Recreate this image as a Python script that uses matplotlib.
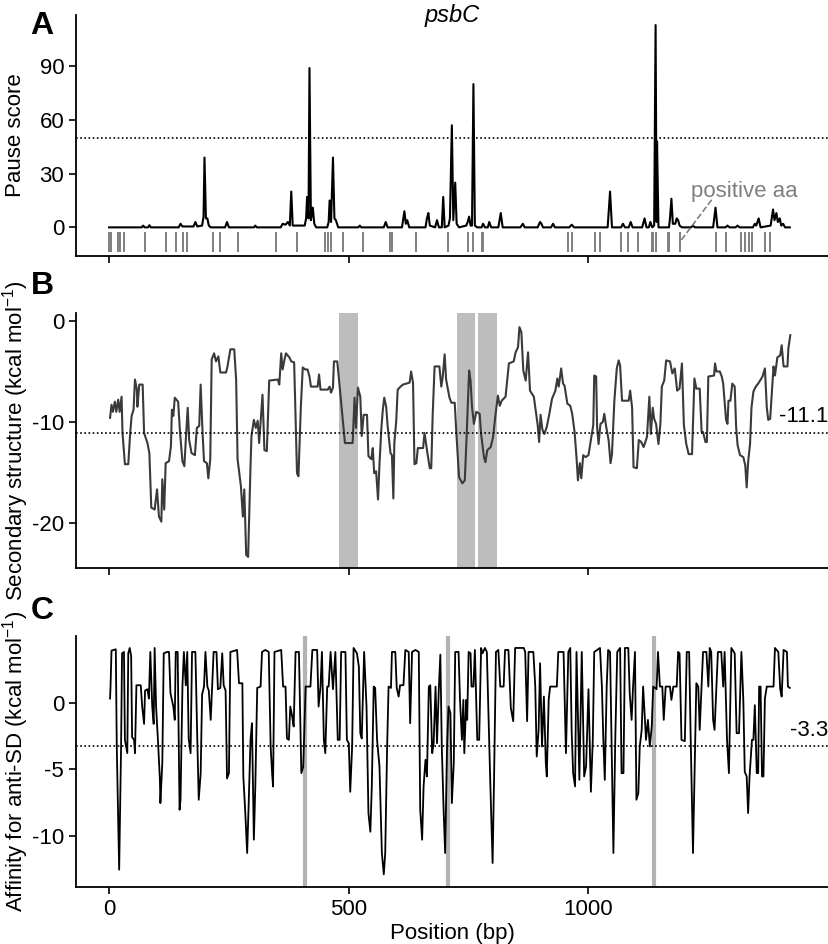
import matplotlib

matplotlib.use("Agg")
import matplotlib.pyplot as plt

plt.rcParams["font.family"] = ["Liberation Sans", "DejaVu Sans"]
plt.rcParams["font.size"] = 16
plt.rcParams["axes.unicode_minus"] = False
plt.rcParams["mathtext.fontset"] = "custom"
plt.rcParams["mathtext.rm"] = "Liberation Sans"
plt.rcParams["mathtext.it"] = "Liberation Sans:italic"

# panel A: ribosome pause score along the gene
pause_points = [
    (0, 0), (68, 0), (71, 1), (74, 0), (81, 0), (84, 1.2), (87, 0),
    (145, 0), (149, 2), (153, 0.5), (176, 0.5), (180, 3), (184, 0.5),
    (194, 1), (197, 6), (199, 39), (202, 5), (205, 5), (208, 1), (212, 0),
    (242, 0), (246, 3), (250, 0), (302, 0), (305, 1), (308, 0),
    (358, 0), (362, 2), (368, 1.5), (373, 3), (377, 1), (380, 20), (383, 1),
    (408, 1), (411, 5), (413, 17), (416, 5), (418, 89), (421, 4), (425, 11),
    (428, 2), (432, 0),
    (455, 0), (458, 3), (460, 15), (463, 3), (467, 39), (470, 5), (473, 4),
    (478, 0), (520, 0), (523, 1), (526, 0), (573, 0), (577, 3), (581, 0),
    (611, 0), (616, 9), (619, 2), (622, 4), (626, 0),
    (660, 0), (663, 5), (666, 8), (669, 1), (680, 0), (684, 4), (688, 0),
    (694, 0), (697, 17), (700, 0),
    (708, 1), (711, 5), (715, 57), (718, 4), (722, 25), (725, 2), (730, 0),
    (745, 1), (748, 3), (751, 6), (754, 1), (757, 1), (760, 80), (763, 1),
    (768, 0), (777, 0), (780, 2), (784, 0), (790, 0), (793, 3), (797, 0),
    (812, 0), (817, 8), (821, 0),
    (858, 0), (863, 2), (867, 0), (894, 0), (899, 3), (902, 2), (905, 0),
    (922, 0), (926, 2), (930, 0), (960, 0), (965, 1.5), (970, 0),
    (1040, 0), (1045, 20), (1049, 0),
    (1068, 0), (1072, 2), (1076, 0), (1084, 0), (1088, 3), (1092, 0),
    (1112, 0), (1117, 5), (1121, 0), (1126, 0), (1129, 3), (1133, 0),
    (1137, 1), (1140, 113), (1142, 3), (1143, 48), (1146, 0),
    (1168, 0), (1170, 5), (1173, 16), (1176, 2), (1181, 2), (1184, 5),
    (1187, 4), (1190, 1), (1195, 0),
    (1214, 0), (1218, 1), (1222, 0), (1260, 0), (1265, 11), (1269, 0),
    (1286, 0), (1290, 1), (1294, 0), (1307, 0), (1311, 1), (1315, 0),
    (1343, 0), (1347, 2), (1350, 1), (1355, 5), (1359, 0),
    (1380, 1), (1385, 10), (1388, 4), (1392, 8), (1395, 3), (1399, 5),
    (1402, 1), (1406, 2), (1410, 0), (1420, 0),
]
pause_threshold = 50

# positions of codons for positive amino acids (rug under panel A)
positive_aa = [
    0, 3, 19, 22, 31, 74, 119, 139, 154, 163, 217, 232, 268, 349, 392,
    451, 457, 463, 488, 530, 587, 590, 641, 706, 748, 760, 777, 781,
    957, 965, 1014, 1024, 1067, 1083, 1104, 1132, 1135, 1141, 1165, 1168,
    1191, 1265, 1286, 1318, 1326, 1334, 1341, 1368, 1378,
]

# panel B: secondary structure free energy
ss_points = [
    (2, -9.6), (5, -8.3), (8, -9.0), (12, -8.0), (15, -9.0), (19, -7.8),
    (22, -9.0), (26, -7.5), (28, -11.1), (33, -14.2), (40, -14.2), (44, -11.1),
    (47, -9.4), (51, -8.8), (54, -5.8), (58, -6.8), (59, -8.5), (63, -6.3),
    (70, -6.3), (73, -11.1), (80, -12.1), (84, -13.1), (88, -18.5), (95, -18.7),
    (100, -16.7), (104, -19.4), (109, -19.9), (111, -15.7), (115, -18.7),
    (118, -14.1), (125, -13.9), (129, -12.4), (131, -8.8), (134, -9.4),
    (137, -7.6), (144, -8.0), (148, -11.1), (153, -13.9), (157, -14.4),
    (160, -11.8), (164, -8.6), (167, -11.8), (172, -13.1), (179, -13.3),
    (183, -10.6), (188, -10.4), (191, -6.3), (195, -11.1), (198, -13.9),
    (204, -14.1), (207, -15.6), (211, -13.7), (214, -3.8), (219, -3.2),
    (223, -4.0), (228, -3.5), (232, -5.1), (244, -5.1), (247, -4.5),
    (253, -2.8), (261, -2.8), (265, -5.8), (268, -13.7), (275, -16.4),
    (279, -19.4), (282, -16.7), (286, -23.2), (290, -23.4), (295, -14.4),
    (297, -11.4), (302, -9.8), (306, -10.6), (310, -9.9), (313, -12.1),
    (317, -9.4), (320, -7.3), (324, -12.8), (329, -12.9), (334, -5.9),
    (352, -5.8), (355, -6.3), (359, -3.2), (362, -4.8), (366, -3.8),
    (369, -3.2), (376, -3.6), (380, -4.0), (386, -4.1), (392, -15.1),
    (395, -15.4), (400, -8.5), (404, -4.6), (409, -4.8), (414, -4.8),
    (418, -5.5), (421, -6.5), (435, -6.5), (438, -5.3), (441, -6.8),
    (456, -6.8), (460, -6.5), (463, -7.1), (467, -6.6), (469, -4.0),
    (476, -4.0), (478, -5.0), (484, -8.1), (492, -12.1), (508, -12.1),
    (512, -7.6), (515, -10.6), (519, -6.6), (524, -7.5), (527, -11.4),
    (531, -9.3), (538, -9.3), (541, -13.4), (547, -13.7), (550, -12.6),
    (553, -15.1), (557, -14.9), (561, -17.7), (564, -14.2), (568, -10.6),
    (571, -8.8), (574, -7.6), (578, -8.5), (581, -10.4), (587, -13.1),
    (590, -13.3), (593, -17.6), (595, -12.1), (599, -9.9), (602, -6.8),
    (608, -6.5), (613, -6.3), (627, -6.1), (630, -5.0), (634, -6.1),
    (637, -14.2), (641, -14.1), (644, -12.6), (655, -12.6), (658, -11.1),
    (664, -13.1), (669, -14.6), (672, -14.6), (675, -9.3), (679, -4.5),
    (689, -4.5), (693, -6.5), (696, -5.5), (700, -3.3), (703, -5.8),
    (710, -7.6), (714, -8.1), (721, -8.1), (724, -10.8), (730, -15.5),
    (737, -16.1), (742, -15.8), (746, -11.2), (751, -4.9), (754, -5.9),
    (757, -8.5), (761, -10.2), (766, -9.0), (773, -9.2), (776, -11.2),
    (782, -13.5), (785, -14.0), (789, -12.8), (796, -12.5), (801, -11.5),
    (806, -9.3), (811, -7.4), (815, -8.4), (819, -7.9), (827, -7.5),
    (834, -4.2), (844, -4.0), (848, -3.1), (853, -2.6), (856, -0.6),
    (860, -1.1), (864, -4.9), (869, -5.9), (874, -3.1), (878, -6.9),
    (886, -7.5), (891, -9.3), (894, -10.3), (897, -12.0), (900, -9.3),
    (904, -10.8), (908, -11.2), (913, -10.5), (918, -9.3), (924, -7.7),
    (931, -6.9), (935, -5.7), (938, -6.5), (943, -4.7), (947, -6.2),
    (950, -6.4), (956, -8.2), (962, -8.4), (966, -9.2), (971, -11.0),
    (975, -13.5), (978, -15.8), (982, -14.1), (985, -15.6), (989, -13.3),
    (994, -13.5), (1000, -13.3), (1005, -11.8), (1010, -10.3), (1012, -5.4),
    (1016, -5.5), (1018, -10.5), (1021, -12.2), (1025, -10.2), (1030, -10.0),
    (1033, -9.2), (1037, -10.5), (1042, -11.8), (1046, -14.1), (1049, -13.2),
    (1054, -7.9), (1059, -4.7), (1063, -3.9), (1066, -4.4), (1070, -7.9),
    (1084, -7.9), (1087, -6.9), (1091, -8.6), (1094, -14.5), (1101, -14.6),
    (1105, -11.8), (1110, -12.0), (1115, -12.5), (1122, -11.5), (1127, -7.5),
    (1130, -11.2), (1134, -8.6), (1137, -9.7), (1141, -10.2), (1146, -12.2),
    (1150, -10.2), (1153, -6.5), (1158, -5.9), (1162, -3.9), (1170, -4.0),
    (1175, -5.2), (1180, -4.7), (1185, -6.9), (1190, -6.7), (1195, -4.2),
    (1199, -10.3), (1204, -12.2), (1209, -13.2), (1216, -13.2), (1221, -5.7),
    (1225, -6.7), (1232, -6.7), (1236, -11.0), (1239, -11.0), (1244, -12.0),
    (1247, -12.0), (1250, -5.5), (1262, -5.4), (1264, -4.2), (1267, -5.0),
    (1274, -5.0), (1278, -5.5), (1281, -6.2), (1287, -9.8), (1290, -10.2),
    (1292, -7.9), (1296, -7.9), (1300, -6.2), (1305, -6.5), (1308, -10.5),
    (1311, -12.3), (1316, -13.3), (1323, -13.5), (1327, -14.3), (1330, -16.5),
    (1333, -14.0), (1337, -12.2), (1340, -8.6), (1344, -7.0), (1349, -6.5),
    (1354, -6.2), (1358, -5.9), (1363, -5.5), (1368, -4.7), (1372, -8.6),
    (1375, -9.8), (1379, -9.7), (1382, -7.5), (1386, -4.5), (1389, -5.4),
    (1394, -3.6), (1400, -3.4), (1403, -2.4), (1407, -4.5), (1415, -4.5),
    (1417, -2.7), (1421, -1.4),
]
ss_threshold = -11.1
ss_bands = [(479, 519), (726, 764), (770, 809)]

# panel C: affinity for anti-SD
sd_points = [
    (2, 0.3), (3, 1.2), (5, 3.9), (14, 4.0), (16, -3.3), (21, -12.55),
    (25, -3.3), (27, 3.7), (31, 3.8), (33, -2.8), (36, -3.4), (38, -3.8),
    (40, 3.7), (43, 4.1), (46, 3.5), (48, -2.6), (52, -2.8), (54, -3.8),
    (57, 1.3), (66, 1.3), (69, -0.3), (73, -1.6), (75, 0.9), (80, 1.0),
    (83, 0.3), (86, 3.8), (90, -0.3), (93, -1.6), (95, 4.1), (98, -0.3),
    (102, -2.9), (106, -5.8), (107, -7.55), (111, -4.55), (114, 3.7),
    (121, 3.8), (125, 3.8), (128, 0.7), (134, -0.3), (137, -1.3), (139, 3.8),
    (143, 3.8), (147, -8.05), (149, -7.3), (153, 1.2), (156, 3.8), (160, 1.3),
    (163, 3.8), (166, -2.7), (170, -3.8), (173, 3.8), (180, 3.8), (184, -2.8),
    (187, -7.3), (191, -5.3), (194, 0.6), (198, 1.2), (201, 3.8), (205, 1.2),
    (208, 0.9), (212, -1.3), (215, 1.2), (218, 3.8), (224, 3.8), (227, 1.0),
    (232, 1.1), (236, 3.7), (239, 1.3), (243, 0.9), (246, -5.7), (250, -5.3),
    (253, 3.8), (267, 3.95), (271, 1.45), (278, 1.45), (280, -5.55),
    (284, -8.2), (288, -11.3), (291, -7.8), (295, -2.8), (298, -1.55),
    (302, -10.3), (305, -6.3), (309, 1.1), (316, 1.2), (319, 3.8),
    (326, 3.95), (333, 3.8), (337, -3.3), (340, -5.3), (342, -6.3),
    (345, 3.8), (359, 3.95), (363, 1.2), (368, 1.2), (371, -2.7), (375, -2.8),
    (378, -0.3), (382, -1.05), (385, -1.8), (389, 3.8), (396, 3.8),
    (401, -5.3), (405, -4.8), (410, 1.2), (420, 1.2), (424, 3.95),
    (434, 3.95), (437, -0.3), (441, 1.2), (444, 3.8), (448, -2.8),
    (451, -3.8), (455, 1.2), (458, 1.2), (462, 3.8), (467, 1.0), (472, 3.8),
    (477, -2.8), (481, -2.8), (484, 3.8), (493, 3.8), (496, -2.8),
    (500, -3.05), (503, -6.7), (507, -3.3), (510, 4.1), (517, 3.7),
    (521, 2.7), (524, -2.3), (527, -2.7), (532, 3.8), (537, -0.3),
    (541, -8.3), (545, -9.7), (548, -6.3), (552, 1.2), (555, 1.1),
    (559, -2.8), (564, -4.8), (569, -11.3), (573, -12.9), (576, -11.3),
    (580, -3.3), (583, 1.2), (588, 1.1), (590, 3.8), (597, 3.8), (600, 1.1),
    (604, 0.45), (607, 1.3), (614, 1.3), (618, 3.95), (625, 3.8),
    (628, -1.55), (632, 3.8), (639, 3.95), (646, 3.8), (649, -8.05),
    (653, -10.3), (656, -6.3), (660, -4.3), (663, -5.55), (667, 1.2),
    (670, 1.3), (674, -3.8), (677, -3.05), (681, 1.2), (684, -3.05),
    (688, 1.2), (691, 3.6), (694, -3.3), (698, -8.3), (701, -11.3),
    (705, -3.3), (708, -0.3), (712, -0.8), (715, -7.55), (719, -4.55),
    (722, 3.8), (729, 3.8), (732, 0.2), (736, -2.8), (739, 0.2), (741, -3.8),
    (745, 0.2), (747, -1.3), (750, 3.8), (754, 3.7), (756, 1.2), (760, 1.2),
    (763, 3.95), (768, -2.8), (772, -2.8), (776, 4.1), (779, 3.7), (784, 4.1),
    (788, 3.8), (791, -0.3), (795, -5.8), (800, -12.05), (803, -5.8),
    (807, 3.8), (812, 3.95), (816, 1.2), (823, 1.2), (826, 3.95),
    (833, 3.95), (838, -0.4), (843, -1.4), (847, 4.1), (865, 4.1), (868, 3.8),
    (872, -1.4), (875, 3.8), (885, 3.8), (889, 1.2), (892, -4.05),
    (896, -2.05), (899, 2.95), (903, -3.3), (907, 0.45), (911, -4.55),
    (913, -5.55), (917, 0.2), (920, 1.2), (934, 1.2), (937, 3.8), (948, 3.8),
    (953, -3.8), (958, 3.8), (962, 4.1), (965, -2.3), (968, -5.3),
    (972, -6.3), (975, 3.8), (981, -5.8), (986, 3.8), (991, -5.55),
    (995, -4.8), (1000, 1.0), (1005, -6.7), (1009, -2.8), (1012, 3.8),
    (1024, 4.1), (1028, 1.2), (1031, -2.8), (1034, -5.8), (1038, 1.2),
    (1041, 3.95), (1045, 3.8), (1052, -11.3), (1056, -2.55), (1060, 3.8),
    (1066, 4.1), (1069, -5.3), (1073, -5.3), (1076, 4.1), (1083, 4.1),
    (1086, 0.7), (1090, -1.3), (1093, 1.2), (1097, 3.8), (1100, -7.3),
    (1104, -6.8), (1107, -3.3), (1111, -2.05), (1114, 1.2), (1120, -2.8),
    (1124, -1.3), (1128, -3.3), (1132, -1.8), (1135, 1.2), (1142, 1.0),
    (1145, 3.8), (1149, 1.2), (1154, 1.2), (1157, -1.3), (1161, 1.2),
    (1170, 1.2), (1173, 0.2), (1177, 1.2), (1184, 1.2), (1187, 3.8),
    (1190, 3.7), (1194, -2.8), (1201, -2.9), (1205, 3.8), (1210, 3.8),
    (1213, -2.3), (1218, -11.3), (1222, -3.8), (1225, 1.45), (1229, 1.2),
    (1232, -2.05), (1236, 1.2), (1239, 3.8), (1246, 3.8), (1250, 1.2),
    (1253, 4.1), (1256, 3.8), (1260, -1.3), (1263, -2.05), (1267, 1.2),
    (1270, 3.8), (1277, 3.8), (1281, 1.2), (1284, 3.8), (1289, -2.8),
    (1293, -5.3), (1298, 4.1), (1305, 3.7), (1309, -2.3), (1314, -2.3),
    (1319, 3.8), (1323, 0.2), (1326, -5.2), (1330, -5.55), (1333, -8.3),
    (1336, -5.55), (1341, -2.8), (1344, -2.8), (1347, -0.2), (1351, -5.3),
    (1354, -5.3), (1356, 1.2), (1359, 1.2), (1362, -5.55), (1365, -5.55),
    (1368, 0.3), (1372, 1.2), (1386, 1.2), (1389, 4.1), (1396, 3.8),
    (1400, 1.0), (1403, 0.45), (1407, 3.95), (1414, 3.8), (1416, 1.2),
    (1420, 1.1),
]
sd_threshold = -3.3
sd_marks = [408, 706, 1137]

pause_x, pause_y = zip(*pause_points)
ss_x, ss_y = zip(*ss_points)
sd_x, sd_y = zip(*sd_points)

fig = plt.figure(figsize=(8.29, 9.44), dpi=100)
axA = fig.add_axes([0.0917, 0.7288, 0.9073, 0.2553])
axB = fig.add_axes([0.0917, 0.3983, 0.9073, 0.2701])
axC = fig.add_axes([0.0917, 0.0604, 0.9073, 0.2659])

for ax in (axA, axB, axC):
    ax.spines["top"].set_visible(False)
    ax.spines["right"].set_visible(False)
    ax.spines["left"].set_linewidth(1.3)
    ax.spines["bottom"].set_linewidth(1.3)
    ax.tick_params(width=1.2, length=5, labelsize=16)
    ax.set_xlim(-69, 1500)
    ax.set_xticks([0, 500, 1000])

# A
axA.plot(pause_x, pause_y, color="black", lw=1.5)
axA.vlines(positive_aa, -14, -2.5, color="#7f7f7f", lw=1.4)
axA.axhline(pause_threshold, color="black", ls=(0, (1, 1.5)), lw=1.2)
axA.set_ylim(-16, 118.6)
axA.set_yticks([0, 30, 60, 90])
axA.set_xticklabels([])
axA.set_ylabel("Pause score")
axA.yaxis.set_label_coords(-0.066, 0.5)
axA.text(0.5, 1.0, "psbC", style="italic", ha="center", va="center",
         transform=axA.transAxes, fontsize=17)
axA.text(1326, 20, "positive aa", color="#7f7f7f", ha="center", va="center",
         fontsize=16)
axA.plot([1257, 1191], [15.4, -8], color="#7f7f7f", ls="--", lw=1.2)

# B
for lo, hi in ss_bands:
    axB.axvspan(lo, hi, color="#bdbdbd", lw=0, zorder=0)
axB.plot(ss_x, ss_y, color="#3a3a3a", lw=1.5)
axB.axhline(ss_threshold, color="black", ls=(0, (1, 1.5)), lw=1.2)
axB.text(1.0, ss_threshold + 0.6, "-11.1", transform=axB.get_yaxis_transform(),
         ha="right", va="bottom", fontsize=16)
axB.set_ylim(-24.5, 0.8)
axB.set_yticks([0, -10, -20])
axB.set_xticklabels([])
axB.set_ylabel("Secondary structure (kcal mol$^{-1}$)")
axB.yaxis.set_label_coords(-0.060, 0.5)

# C
for m in sd_marks:
    axC.axvline(m, color="#b3b3b3", lw=3, zorder=0)
axC.plot(sd_x, sd_y, color="black", lw=1.3)
axC.axhline(sd_threshold, color="black", ls=(0, (1, 1.5)), lw=1.2)
axC.text(1.0, sd_threshold + 0.4, "-3.3", transform=axC.get_yaxis_transform(),
         ha="right", va="bottom", fontsize=16)
axC.set_ylim(-13.85, 5.0)
axC.set_yticks([0, -5, -10])
axC.set_xlabel("Position (bp)", labelpad=2)
axC.set_ylabel("Affinity for anti-SD (kcal mol$^{-1}$)")
axC.yaxis.set_label_coords(-0.060, 0.5)

for letter, y in (("A", 26), ("B", 286), ("C", 611)):
    fig.text(42 / 829, 1 - y / 944, letter, fontsize=23, fontweight="bold",
             ha="center", va="center")

fig.savefig("out.png", dpi=100)
